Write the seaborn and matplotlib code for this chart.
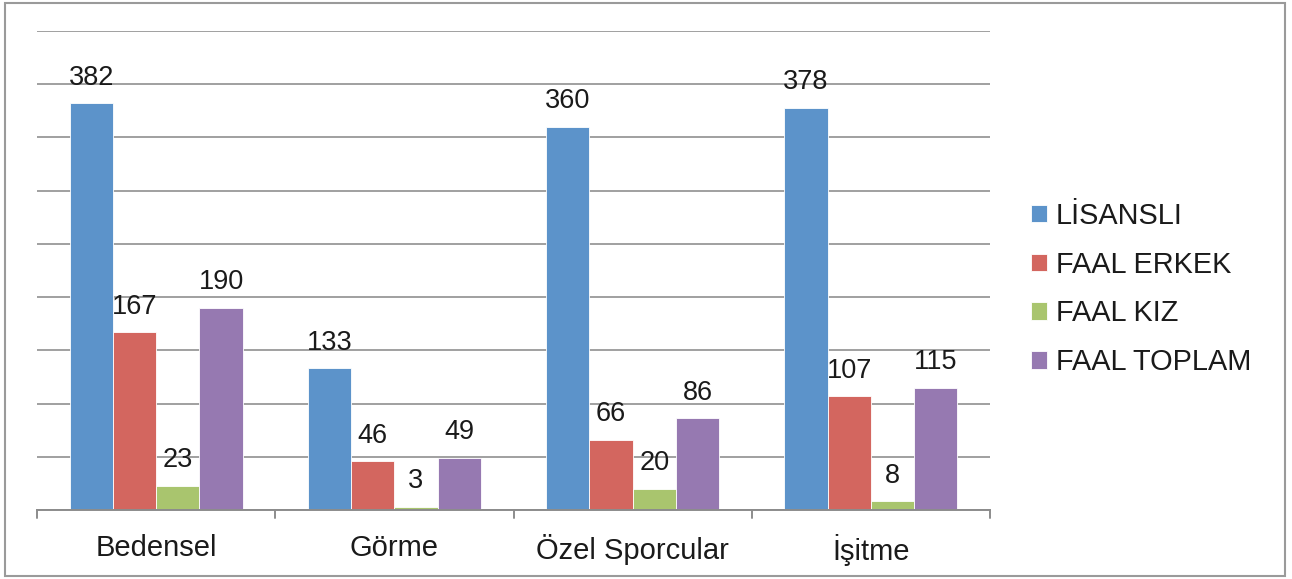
import matplotlib
matplotlib.use("Agg")
import matplotlib.pyplot as plt
import seaborn as sns
import pandas as pd
from matplotlib.patches import Rectangle

categories = ["Bedensel", "Görme", "Özel Sporcular", "İşitme"]
series = ["LİSANSLI", "FAAL ERKEK", "FAAL KIZ", "FAAL TOPLAM"]
lisansli = [382, 133, 360, 378]
faal_erkek = [167, 46, 66, 107]
faal_kiz = [23, 3, 20, 8]
faal_toplam = [190, 49, 86, 115]
colors = ["#5C93CA", "#D3665F", "#A9C56E", "#9679B1"]

rows = []
for s, vals in zip(series, [lisansli, faal_erkek, faal_kiz, faal_toplam]):
    for c, v in zip(categories, vals):
        rows.append({"Kategori": c, "Seri": s, "Değer": v})
df = pd.DataFrame(rows)

sns.set_theme(style="white")
plt.rcParams["font.family"] = ["Liberation Sans", "DejaVu Sans"]

W, H = 1292, 579
fig = plt.figure(figsize=(W / 100, H / 100), dpi=100)
ax = fig.add_axes([37 / W, 1 - 510 / H, (990 - 37) / W, (510 - 31) / H])

sns.barplot(data=df, x="Kategori", y="Değer", hue="Seri", order=categories,
            hue_order=series, palette=colors, width=0.727, ax=ax,
            edgecolor="white", linewidth=0.6, saturation=1, errorbar=None)

ax.set_ylim(0, 450)
ax.set_xlim(-0.5, 3.5)
ax.set_yticks(range(0, 451, 50))
ax.yaxis.grid(True, color="#A0A0A0", linewidth=1.4)
ax.set_axisbelow(True)
ax.set_yticklabels([])
ax.tick_params(axis="y", length=0)
for side in ["top", "right", "left"]:
    ax.spines[side].set_visible(False)
ax.spines["bottom"].set_color("#8C8C8C")
ax.spines["bottom"].set_linewidth(1.4)
ax.set_xlabel("")
ax.set_ylabel("")
ax.set_xticks([0, 1, 2, 3])
ax.set_xticklabels(categories, fontsize=21, color="#1A1A1A")
ax.tick_params(axis="x", length=0, pad=17)
for xb in [-0.5, 0.5, 1.5, 2.5, 3.5]:
    ax.plot([xb, xb], [0, -0.017], transform=ax.get_xaxis_transform(),
            color="#8C8C8C", linewidth=1.4, clip_on=False)

for cont in ax.containers:
    ax.bar_label(cont, fontsize=19.5, padding=9, color="#1A1A1A")

leg = ax.legend(loc="center left", bbox_to_anchor=(1031 / W, 1 - 289 / H),
                bbox_transform=fig.transFigure, frameon=False, fontsize=20.8,
                handlelength=0.55, handleheight=0.55, handletextpad=0.3,
                labelspacing=0.72, borderaxespad=0, borderpad=0)
for t in leg.get_texts():
    t.set_color("#1A1A1A")

fig.patches.append(Rectangle((5 / W, 3 / H), 1280 / W, 573 / H, transform=fig.transFigure,
                             fill=False, edgecolor="#9A9A9A", linewidth=1.5))

fig.savefig("out.png", dpi=100)
